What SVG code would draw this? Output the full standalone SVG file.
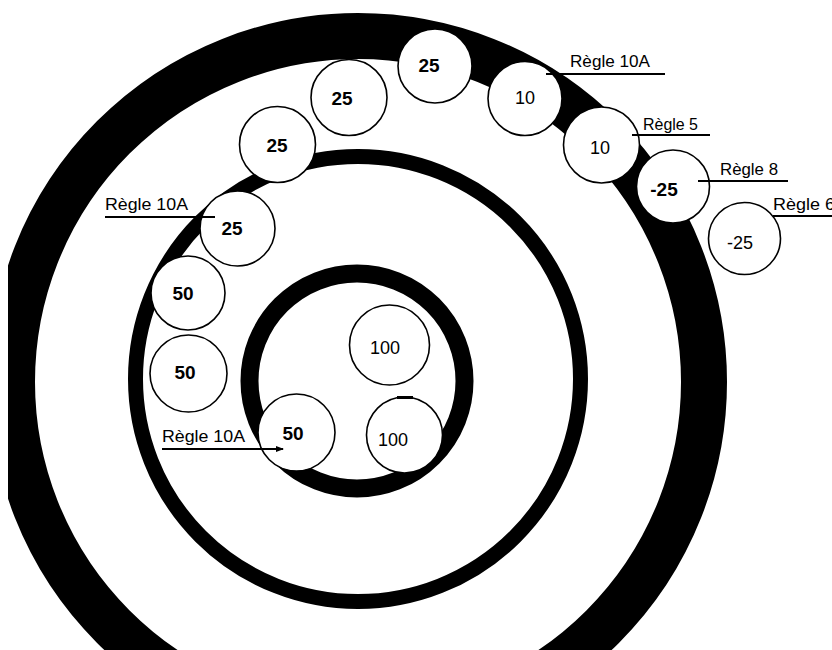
<svg xmlns="http://www.w3.org/2000/svg" width="832" height="650" viewBox="0 0 832 650">
<style>
.ring{fill:none;stroke:#000}
.node circle{fill:#fff;stroke:#000;stroke-width:1.6}
.num{font-family:"Liberation Sans",Arial,sans-serif;font-size:18px;text-anchor:middle;fill:#000}
.b{font-weight:bold;font-size:19px}
.lbl{font-family:"Liberation Sans",Arial,sans-serif;font-size:17px;fill:#000}
.ul{stroke:#000;stroke-width:2;fill:none}
</style>
<defs>
<marker id="arr" viewBox="0 0 8 6" refX="7" refY="3" markerWidth="8" markerHeight="6" markerUnits="userSpaceOnUse" orient="auto">
<path d="M0,0 L8,3 L0,6 z" fill="#000"/>
</marker>
</defs>
<rect width="832" height="650" fill="#fff"/>
<g id="rings">
<circle class="ring" cx="358" cy="382" r="346" stroke-width="46"/>
<circle class="ring" cx="358" cy="379" r="222.5" stroke-width="15"/>
<circle class="ring" cx="357" cy="381" r="107.5" stroke-width="18"/>
<rect x="0" y="0" width="8" height="650" fill="#fff"/>
</g>
<g id="n25-top" class="node"><circle cx="435" cy="66" r="37"/><text class="num b" x="429" y="72">25</text></g>
<g id="n25-2" class="node"><circle cx="349" cy="97.5" r="38"/><text class="num b" x="342" y="105">25</text></g>
<g id="n25-3" class="node"><circle cx="277.5" cy="144.5" r="38"/><text class="num b" x="277" y="152">25</text></g>
<g id="n25-4" class="node"><circle cx="237.5" cy="228.5" r="37.5"/><text class="num b" x="232" y="235">25</text></g>
<g id="n50-1" class="node"><circle cx="188" cy="293" r="37"/><text class="num b" x="183" y="300">50</text></g>
<g id="n50-2" class="node"><circle cx="188.5" cy="373.5" r="38.5"/><text class="num b" x="185" y="379">50</text></g>
<g id="n50-inner" class="node"><circle cx="296.5" cy="432.5" r="38.5"/><text class="num b" x="293" y="440">50</text></g>
<g id="n100-1" class="node"><circle cx="389.5" cy="345" r="40"/><text class="num" x="385" y="354">100</text></g>
<g id="n100-2" class="node"><circle cx="404.5" cy="435" r="38"/><rect x="397" y="396" width="16" height="3" fill="#000"/><text class="num" x="393" y="446">100</text></g>
<g id="n10-1" class="node"><circle cx="525" cy="98.5" r="37"/><text class="num" x="525" y="104">10</text></g>
<g id="n10-2" class="node"><circle cx="601.5" cy="145" r="38"/><text class="num" x="600" y="154">10</text></g>
<g id="nm25-1" class="node"><circle cx="673" cy="186.5" r="36.5"/><text class="num b" x="664" y="196">-25</text></g>
<g id="nm25-2" class="node"><circle cx="744.5" cy="238.5" r="36"/><text class="num" x="740" y="249">-25</text></g>
<g id="labels">
<text class="lbl" x="570" y="67" textLength="80" lengthAdjust="spacingAndGlyphs">Règle 10A</text>
<text class="lbl" x="643" y="130" textLength="55" lengthAdjust="spacingAndGlyphs">Règle 5</text>
<text class="lbl" x="720" y="175" textLength="58" lengthAdjust="spacingAndGlyphs">Règle 8</text>
<text class="lbl" x="773" y="210" textLength="62" lengthAdjust="spacingAndGlyphs">Règle 6</text>
<text class="lbl" x="105" y="210" textLength="83" lengthAdjust="spacingAndGlyphs">Règle 10A</text>
<text class="lbl" x="162" y="442" textLength="83" lengthAdjust="spacingAndGlyphs">Règle 10A</text>
</g>
<g id="connectors">
<line class="ul" x1="546" y1="74" x2="665" y2="74"/>
<line class="ul" x1="632" y1="135" x2="710" y2="135"/>
<line class="ul" x1="698" y1="181" x2="788" y2="181"/>
<line class="ul" x1="773" y1="216" x2="832" y2="216"/>
<line class="ul" x1="105" y1="217" x2="215" y2="217" stroke-width="3"/>
<line class="ul" x1="162" y1="449" x2="283" y2="449" marker-end="url(#arr)"/>
</g>
</svg>
